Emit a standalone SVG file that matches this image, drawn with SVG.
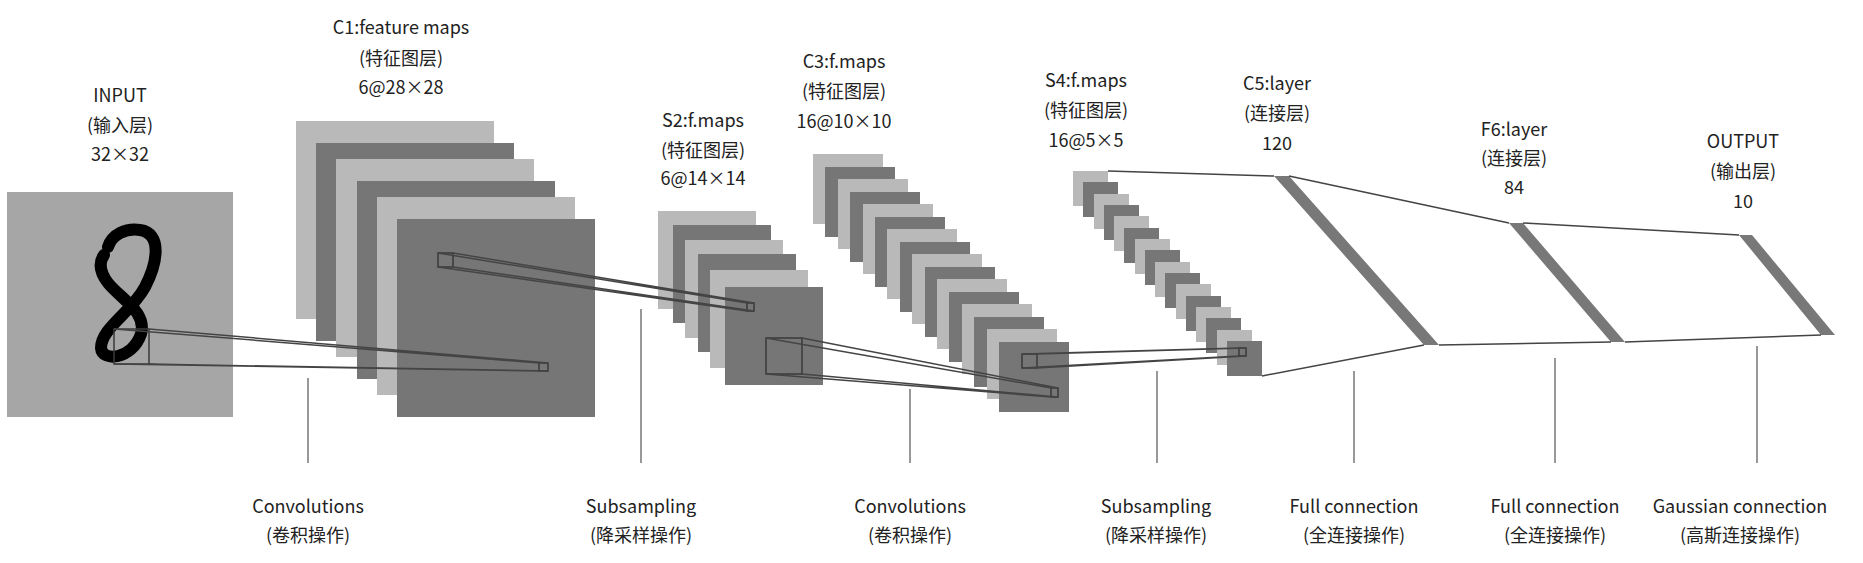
<svg xmlns="http://www.w3.org/2000/svg" width="1863" height="563" viewBox="0 0 1863 563">
<style>
text{font-family:"Noto Sans CJK SC","Noto Sans",sans-serif;font-size:18px;fill:#222;text-anchor:middle}
.l{fill:#b9b9b9}.d{fill:#767676}.in{fill:#a6a6a6}
.k{fill:none;stroke:#3a3a3a;stroke-width:1.5}
.c{stroke:#444;stroke-width:1.5;fill:none}
.v{stroke:#555;stroke-width:1.2}
.bar{fill:#787878}
</style>
<rect width="1863" height="563" fill="#fff"/>
<g id="input">
<rect class="in" x="7" y="192" width="226" height="225"/>
<path d="M108 247 C112 234 126 228 140 230 C162 233 158 262 145 287 C131 313 101 328 101 348 C102 362 132 360 141 334 C147 312 122 300 108 283 C99 271 99 262 104 255" fill="none" stroke="#000" stroke-width="12" stroke-linecap="round" stroke-linejoin="round"/>
<text x="120" y="102">INPUT</text><text x="120" y="132">(输入层)</text><text x="120" y="161">32×32</text>
</g>
<g id="c1">
<rect class="l" x="296" y="121" width="198" height="198"/>
<rect class="d" x="316" y="143" width="198" height="198"/>
<rect class="l" x="336" y="159" width="198" height="198"/>
<rect class="d" x="357" y="181" width="198" height="198"/>
<rect class="l" x="377" y="197" width="198" height="198"/>
<rect class="d" x="397" y="219" width="198" height="198"/>
<text x="401" y="34">C1:feature maps</text><text x="401" y="65">(特征图层)</text><text x="401" y="94">6@28×28</text>
</g>
<g id="s2">
<rect class="l" x="658" y="211" width="98" height="98"/>
<rect class="d" x="673" y="225" width="98" height="98"/>
<rect class="l" x="685" y="240" width="98" height="98"/>
<rect class="d" x="698" y="254" width="98" height="98"/>
<rect class="l" x="710" y="270" width="98" height="98"/>
<rect class="d" x="725" y="287" width="98" height="98"/>
<text x="703" y="127">S2:f.maps</text><text x="703" y="157">(特征图层)</text><text x="703" y="185">6@14×14</text>
</g>
<g id="c3">
<rect class="l" x="813" y="154" width="70" height="70"/>
<rect class="d" x="825" y="167" width="70" height="70"/>
<rect class="l" x="838" y="179" width="70" height="70"/>
<rect class="d" x="850" y="192" width="70" height="70"/>
<rect class="l" x="863" y="204" width="70" height="70"/>
<rect class="d" x="875" y="217" width="70" height="70"/>
<rect class="l" x="887" y="229" width="70" height="70"/>
<rect class="d" x="900" y="242" width="70" height="70"/>
<rect class="l" x="912" y="254" width="70" height="70"/>
<rect class="d" x="925" y="267" width="70" height="70"/>
<rect class="l" x="937" y="279" width="70" height="70"/>
<rect class="d" x="949" y="292" width="70" height="70"/>
<rect class="l" x="962" y="304" width="70" height="70"/>
<rect class="d" x="974" y="317" width="70" height="70"/>
<rect class="l" x="987" y="329" width="70" height="70"/>
<rect class="d" x="999" y="342" width="70" height="70"/>
<text x="844" y="68">C3:f.maps</text><text x="844" y="98">(特征图层)</text><text x="844" y="128">16@10×10</text>
</g>
<g id="s4">
<rect class="l" x="1073" y="171" width="35" height="35"/>
<rect class="d" x="1083" y="182" width="35" height="35"/>
<rect class="l" x="1094" y="194" width="35" height="35"/>
<rect class="d" x="1104" y="205" width="35" height="35"/>
<rect class="l" x="1114" y="216" width="35" height="35"/>
<rect class="d" x="1124" y="228" width="35" height="35"/>
<rect class="l" x="1135" y="239" width="35" height="35"/>
<rect class="d" x="1145" y="250" width="35" height="35"/>
<rect class="l" x="1155" y="262" width="35" height="35"/>
<rect class="d" x="1165" y="273" width="35" height="35"/>
<rect class="l" x="1176" y="284" width="35" height="35"/>
<rect class="d" x="1186" y="296" width="35" height="35"/>
<rect class="l" x="1196" y="307" width="35" height="35"/>
<rect class="d" x="1206" y="318" width="35" height="35"/>
<rect class="l" x="1217" y="330" width="35" height="35"/>
<rect class="d" x="1227" y="341" width="35" height="35"/>
<text x="1086" y="87">S4:f.maps</text><text x="1086" y="117">(特征图层)</text><text x="1086" y="147">16@5×5</text>
</g>
<g id="c5">
<polygon class="bar" points="1274,176 1289,176 1439,345 1424,345"/>
<text x="1277" y="90">C5:layer</text><text x="1277" y="120">(连接层)</text><text x="1277" y="150">120</text>
</g>
<g id="f6">
<polygon class="bar" points="1509,223 1523,223 1625,342 1611,342"/>
<text x="1514" y="136">F6:layer</text><text x="1514" y="165">(连接层)</text><text x="1514" y="194">84</text>
</g>
<g id="output">
<polygon class="bar" points="1739,235 1752,235 1835,335 1821,335"/>
<text x="1743" y="148">OUTPUT</text><text x="1743" y="178">(输出层)</text><text x="1743" y="208">10</text>
</g>
<g id="connectors">
<rect class="k" x="114" y="329" width="35" height="35"/>
<rect class="k" x="539" y="363" width="9" height="8"/>
<path class="c" d="M114 329 L539 363 M149 329 L548 363 M114 364 L539 371 M149 364 L548 371"/>
<rect class="k" x="438" y="253" width="15" height="14"/>
<rect class="k" x="747" y="303" width="7" height="8"/>
<path class="c" d="M438 253 L747 303 M453 253 L754 303 M438 267 L747 311 M453 267 L754 311"/>
<rect class="k" x="766" y="338" width="36" height="36"/>
<rect class="k" x="1051" y="388" width="7" height="9"/>
<path class="c" d="M766 338 L1051 388 M802 338 L1058 388 M766 374 L1051 397 M802 374 L1058 397"/>
<rect class="k" x="1022" y="354" width="15" height="14"/>
<rect class="k" x="1239" y="348" width="7" height="8"/>
<path class="c" d="M1022 354 L1239 348 M1037 354 L1246 348 M1022 368 L1239 356 M1037 368 L1246 356"/>
<path class="c" d="M1108 171 L1274 176 M1262 376 L1424 345 M1289 176 L1509 223 M1439 345 L1611 342 M1523 223 L1739 235 M1625 342 L1821 335"/>
<path class="v" d="M308 378 V463 M641 309 V463 M910 389 V463 M1157 371 V463 M1354 371 V463 M1555 358 V463 M1757 346 V463"/>
</g>
<g id="labels">
<text x="308" y="513">Convolutions</text><text x="308" y="542">(卷积操作)</text>
<text x="641" y="513">Subsampling</text><text x="641" y="542">(降采样操作)</text>
<text x="910" y="513">Convolutions</text><text x="910" y="542">(卷积操作)</text>
<text x="1156" y="513">Subsampling</text><text x="1156" y="542">(降采样操作)</text>
<text x="1354" y="513">Full connection</text><text x="1354" y="542">(全连接操作)</text>
<text x="1555" y="513">Full connection</text><text x="1555" y="542">(全连接操作)</text>
<text x="1740" y="513">Gaussian connection</text><text x="1740" y="542">(高斯连接操作)</text>
</g>
</svg>
